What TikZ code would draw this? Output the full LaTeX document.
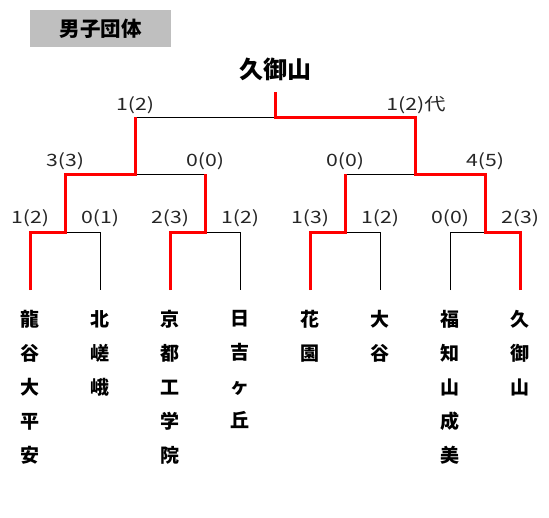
\documentclass[tikz,border=0pt]{standalone}
\usepackage{fontspec}
\setmainfont{Noto Sans CJK JP}
\newfontfamily\numfont[FakeStretch=1.25]{Noto Sans CJK JP}
\usepackage{tikz}
\usetikzlibrary{positioning,calc}
\definecolor{winR}{HTML}{FF0000}
\definecolor{titleG}{HTML}{BFBFBF}

\begin{document}
\begin{tikzpicture}[
  x=1pt,y=-1pt,
  line/.style={black,line width=0.9pt},
  win/.style={winR,line width=3pt,line join=miter},
  score/.style={font=\numfont\fontsize{17}{17}\selectfont,text=black!85,inner sep=0pt,anchor=base},
  team/.style={font=\bfseries\fontsize{19}{34}\selectfont,align=center,anchor=north,inner sep=0pt}
]
\useasboundingbox (0,0) rectangle (549,517);

% Title and champion
\node[fill=titleG,minimum width=141pt,minimum height=37pt,inner sep=0pt,
  font=\bfseries\fontsize{20.5}{20.5}\selectfont] (title) at (100.5,28.5) {男子団体};
\node[font=\bfseries\fontsize{24}{24}\selectfont,inner sep=0pt] (champ) at (275,69) {久御山};

% Leaves and teams
\foreach \i/\x/\name in {1/30/龍\\谷\\大\\平\\安, 2/100/北\\嵯\\峨, 3/170/京\\都\\工\\学\\院,
    4/240/日\\吉\\ヶ\\丘, 5/310/花\\園, 6/380/大\\谷, 7/450/福\\知\\山\\成\\美, 8/520/久\\御\\山}{
  \coordinate (b\i) at (\x,290);
  \coordinate (u\i) at (\x,232);
  \node[team] (t\i) at (\x,310) {\name};
}

% Round 1
\foreach \m/\p/\q/\x in {a/1/2/65, b/3/4/205, c/5/6/345, d/7/8/485}{
  \coordinate (\m) at (\x,232);
  \coordinate (t\m) at (\x,174);
  \draw[line] (b\p) -- (u\p) -- (u\q) -- (b\q);
  \draw[line] (\m) -- (t\m);
}

% Round 2 and final
\coordinate (e) at (135,174);
\coordinate (te) at (135,117);
\coordinate (f) at (415,174);
\coordinate (tf) at (415,117);
\coordinate (g) at (275,117);
\coordinate (tg) at (275,92);
\draw[line] (ta) -- (tb);
\draw[line] (tc) -- (td);
\draw[line] (e) -- (te);
\draw[line] (f) -- (tf);
\draw[line] (te) -- (tf);
\draw[line] (g) -- (tg);

% Winners
\draw[win] (b1) -- (u1) -- (a) -- (ta) -- (e) -- (te);
\draw[win] (b3) -- (u3) -- (b) -- (tb);
\draw[win] (b5) -- (u5) -- (c) -- (tc);
\draw[win] (b8) -- (u8) -- (d) -- (td) -- (f) -- (tf) -- (g) -- (tg);

% Scores
\foreach \i/\s in {1/1(2), 2/0(1), 3/2(3), 4/1(2), 5/1(3), 6/1(2), 7/0(0), 8/2(3)}{
  \node[score] (s\i) at ($(u\i)+(0,-9)$) {\s};
}
\foreach \m/\s in {a/3(3), b/0(0), c/0(0), d/4(5)}{
  \node[score] (s\m) at ($(t\m)+(0,-8)$) {\s};
}
\node[score] (se) at ($(te)+(0,-7)$) {1(2)};
\node[score] (sf) at ($(tf)+(1,-7)$) {1(2)代};
\end{tikzpicture}
\end{document}
